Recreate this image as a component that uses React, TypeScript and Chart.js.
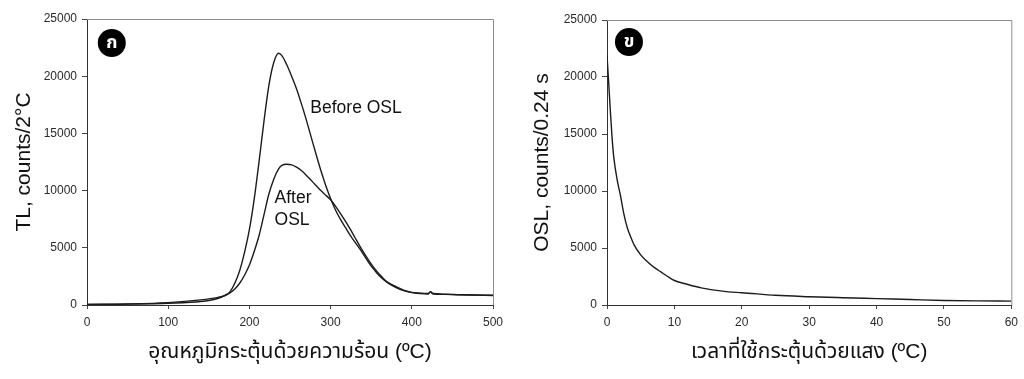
import React, { useEffect, useRef } from "react";
import { Chart, registerables } from "chart.js";

Chart.register(...registerables);

// ---------- Data ----------
const tlTemperature = [
  0, 50, 100, 140, 160, 170, 176, 182, 188, 194, 200, 206, 212, 218, 224, 230, 236, 240, 246, 252,
  258, 264, 270, 276, 282, 288, 294, 300, 306, 312, 318, 324, 330, 336, 342, 348, 354, 360, 370,
  380, 390, 400, 410, 420, 423, 426, 440, 460, 480, 500,
];
const tlBeforeOSL = [
  50, 80, 150, 300, 550, 850, 1150, 1900, 3000, 4600, 6600, 9300, 12600, 16100, 19200, 21200,
  22000, 21800, 21000, 20000, 18900, 17600, 16200, 14700, 13200, 11750, 10450, 9300, 8300, 7500,
  6800, 6100, 5500, 4900, 4250, 3600, 3050, 2550, 1950, 1550, 1250, 1080, 1000, 960, 1170, 980,
  930, 890, 860, 830,
];
const tlAfterOSL = [
  50, 90, 210, 450, 650, 830, 1050, 1400, 1900, 2600, 3500, 4700, 6100, 7900, 9700, 11000, 11900,
  12200, 12300, 12250, 12050, 11750, 11350, 10900, 10450, 10000, 9600, 9200, 8650, 8000, 7350,
  6650, 5900, 5150, 4450, 3800, 3200, 2700, 2000, 1620, 1300, 1100, 1040, 1010, 1150, 1000, 950,
  900, 870, 850,
];

const oslTime = [
  0, 0.25, 0.5, 0.75, 1, 1.5, 2, 2.5, 3, 3.5, 4, 5, 6, 7, 8, 9, 10, 12, 14, 16, 18, 20, 25, 30, 35,
  40, 45, 50, 55, 60,
];
const oslCounts = [
  21900, 19500, 17000, 14700, 13000, 11000, 9600, 8000, 6800, 6000, 5300, 4400, 3800, 3300, 2900,
  2500, 2150, 1800, 1500, 1300, 1150, 1080, 850, 730, 640, 560, 480, 400, 360, 340,
];

const tlXTicks = [0, 100, 200, 300, 400, 500];
const oslXTicks = [0, 10, 20, 30, 40, 50, 60];
const countTicks = [0, 5000, 10000, 15000, 20000, 25000];

const tlXTitle = "อุณหภูมิกระตุ้นด้วยความร้อน (ºC)";
const tlYTitle = "TL, counts/2°C";
const oslXTitle = "เวลาที่ใช้กระตุ้นด้วยแสง (ºC)";
const oslYTitle = "OSL, counts/0.24 s";
const panelLetters = ["ก", "ข"];

// ---------- Styling ----------
const LATIN = "'Liberation Sans', Arial, sans-serif";
const TITLE_FONT = "'Liberation Sans', 'Noto Sans Thai', 'Noto Sans', sans-serif";
const LINE = "#1c1c1c";

type Note = { text: string; x: number; y: number };

function framePlugin(letter: string, lx: number, ly: number, notes: Note[]) {
  return {
    id: "frameAndNotes",
    afterDraw(chart: any) {
      const { ctx, chartArea: a, scales } = chart;
      ctx.save();
      ctx.strokeStyle = "#8c8c8c";
      ctx.lineWidth = 1;
      ctx.beginPath();
      ctx.moveTo(a.left, a.top + 0.5);
      ctx.lineTo(a.right + 0.5, a.top + 0.5);
      ctx.lineTo(a.right + 0.5, a.bottom);
      ctx.stroke();

      // panel letter badge
      const cx = scales.x.getPixelForValue(lx);
      const cy = scales.y.getPixelForValue(ly);
      ctx.fillStyle = "#000";
      ctx.beginPath();
      ctx.arc(cx, cy, 14, 0, Math.PI * 2);
      ctx.fill();
      ctx.fillStyle = "#fff";
      ctx.font = "bold 18px 'Noto Sans Thai', 'Noto Sans', sans-serif";
      ctx.textAlign = "center";
      ctx.textBaseline = "middle";
      ctx.fillText(letter, cx, cy + 1);

      // text notes
      ctx.fillStyle = "#111";
      ctx.font = `17.5px ${LATIN}`;
      ctx.textAlign = "left";
      ctx.textBaseline = "alphabetic";
      for (const n of notes) {
        ctx.fillText(n.text, scales.x.getPixelForValue(n.x), scales.y.getPixelForValue(n.y));
      }
      ctx.restore();
    },
  };
}

function makeConfig(opts: {
  datasets: any[];
  xMax: number;
  xTicks: number[];
  xTitle: string;
  yTitle: string;
  yWidth: number;
  padTop: number;
  padRight: number;
  yTitlePad: number;
  plugin: any;
}) {
  return {
    type: "line" as const,
    data: { datasets: opts.datasets },
    options: {
      animation: false,
      responsive: false,
      devicePixelRatio: 1,
      layout: { padding: { left: 0, top: opts.padTop, right: opts.padRight, bottom: 0 } },
      plugins: { legend: { display: false }, tooltip: { enabled: false } },
      elements: { point: { radius: 0 } },
      scales: {
        x: {
          type: "linear",
          min: 0,
          max: opts.xMax,
          afterBuildTicks: (s: any) => {
            s.ticks = opts.xTicks.map((v) => ({ value: v }));
          },
          afterFit: (s: any) => {
            s.height = 74;
          },
          grid: { display: true, drawOnChartArea: false, drawTicks: true, tickLength: 4, color: "#444" },
          border: { display: true, color: "#333", width: 1 },
          ticks: { color: "#2a2a2a", padding: 6, font: { family: LATIN, size: 12 }, maxRotation: 0 },
          title: {
            display: true,
            text: opts.xTitle,
            color: "#111",
            font: { family: TITLE_FONT, size: 21 },
            padding: { top: 0, bottom: 14 },
          },
        },
        y: {
          type: "linear",
          min: 0,
          max: 25000,
          afterBuildTicks: (s: any) => {
            s.ticks = countTicks.map((v) => ({ value: v }));
          },
          afterFit: (s: any) => {
            s.width = opts.yWidth;
          },
          grid: { display: true, drawOnChartArea: false, drawTicks: true, tickLength: 5, color: "#444" },
          border: { display: true, color: "#333", width: 1 },
          ticks: {
            color: "#2a2a2a",
            padding: 5,
            font: { family: LATIN, size: 12 },
            callback: (v: any) => String(v),
          },
          title: {
            display: true,
            text: opts.yTitle,
            color: "#111",
            font: { family: LATIN, size: 21 },
            padding: { top: opts.yTitlePad, bottom: 0 },
          },
        },
      },
    },
    plugins: [opts.plugin],
  };
}

function ChartPanel({ config, left }: { config: any; left: number }) {
  const ref = useRef<HTMLCanvasElement | null>(null);
  useEffect(() => {
    if (!ref.current) return;
    const chart = new Chart(ref.current, config);
    return () => chart.destroy();
  }, [config]);
  return (
    <div style={{ position: "absolute", left, top: 0, width: 512, height: 379 }}>
      <canvas ref={ref} width={512} height={379} style={{ width: 512, height: 379, display: "block" }} />
    </div>
  );
}

const tlConfig = makeConfig({
  datasets: [
    {
      label: "Before OSL",
      data: tlTemperature.map((t, i) => ({ x: t, y: tlBeforeOSL[i] })),
      borderColor: LINE,
      borderWidth: 1.4,
      cubicInterpolationMode: "monotone",
    },
    {
      label: "After OSL",
      data: tlTemperature.map((t, i) => ({ x: t, y: tlAfterOSL[i] })),
      borderColor: LINE,
      borderWidth: 1.4,
      cubicInterpolationMode: "monotone",
    },
  ],
  xMax: 500,
  xTicks: tlXTicks,
  xTitle: tlXTitle,
  yTitle: tlYTitle,
  yWidth: 87,
  padTop: 19,
  padRight: 19,
  yTitlePad: 12,
  plugin: framePlugin(panelLetters[0], 30.5, 22900, [
    { text: "Before OSL", x: 275, y: 16820 },
    { text: "After", x: 231, y: 8900 },
    { text: "OSL", x: 231, y: 6980 },
  ]),
});

const oslConfig = makeConfig({
  datasets: [
    {
      label: "OSL",
      data: oslTime.map((t, i) => ({ x: t, y: oslCounts[i] })),
      borderColor: LINE,
      borderWidth: 1.4,
      cubicInterpolationMode: "monotone",
    },
  ],
  xMax: 60,
  xTicks: oslXTicks,
  xTitle: oslXTitle,
  yTitle: oslYTitle,
  yWidth: 95,
  padTop: 20,
  padRight: 12,
  yTitlePad: 18,
  plugin: framePlugin(panelLetters[1], 3.26, 23070, []),
});

export default function App() {
  return (
    <div
      style={{
        position: "fixed",
        left: 0,
        top: 0,
        width: 1024,
        height: 379,
        background: "#fff",
        overflow: "hidden",
      }}
    >
      <ChartPanel config={tlConfig} left={0} />
      <ChartPanel config={oslConfig} left={512} />
    </div>
  );
}
